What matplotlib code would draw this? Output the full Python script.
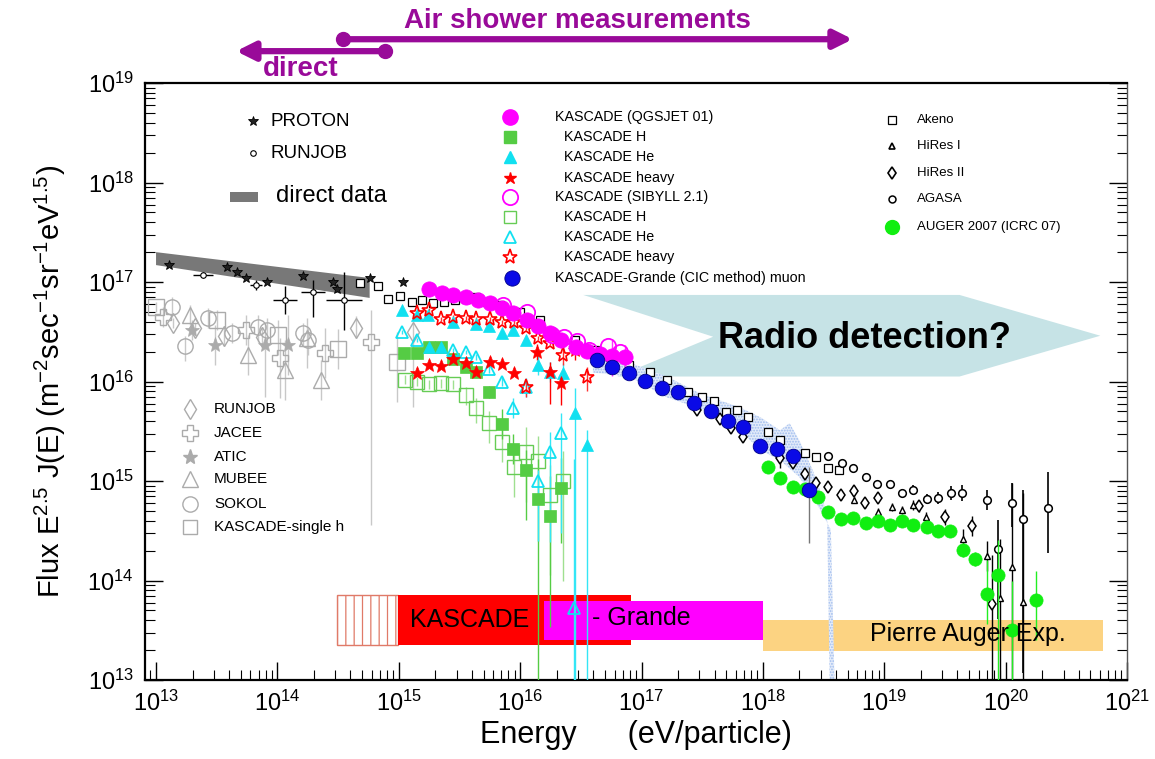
import numpy as np
import matplotlib
matplotlib.use("Agg")
import matplotlib.pyplot as plt
from matplotlib.patches import Polygon
from matplotlib.ticker import FixedLocator, NullFormatter

plt.rcParams['font.family'] = ['Liberation Sans', 'DejaVu Sans']
plt.rcParams['mathtext.fontset'] = 'custom'
plt.rcParams['mathtext.rm'] = 'Liberation Sans'
plt.rcParams['mathtext.it'] = 'Liberation Sans:italic'
plt.rcParams['mathtext.bf'] = 'Liberation Sans:bold'
plt.rcParams['hatch.linewidth'] = 0.9

# ---------------- data (log10 energy [eV], log10 flux*E^2.5) ----------------
band_logE = [13.0, 14.76]
band_up = [17.30, 17.04]
band_lo = [17.17, 16.84]

proton_logE = [13.107, 13.585, 13.667, 13.741, 13.914, 14.211, 14.458, 14.491, 14.763, 15.035]
proton_logF = [17.171, 17.151, 17.101, 17.045, 17.005, 17.065, 17.005, 16.925, 17.045, 17.005]

runjob_logE = [13.387, 13.824, 14.063, 14.293, 14.549]
runjob_logF = [17.070, 16.970, 16.819, 16.899, 16.819]
runjob_xerr = [0.08, 0.05, 0.10, 0.10, 0.15]
runjob_ylo = [0.03, 0.05, 0.14, 0.25, 0.30]
runjob_yhi = [0.03, 0.05, 0.14, 0.12, 0.28]

sokol_logE = [13.132, 13.239, 13.428, 13.626, 13.840, 13.914, 14.211, 14.252]
sokol_logF = [16.749, 16.357, 16.638, 16.487, 16.548, 16.518, 16.487, 16.417]
sokol_lo = [0.10, 0.15, 0.10, 0.10, 0.15, 0.15, 0.12, 0.15]
sokol_hi = [0.10, 0.10, 0.10, 0.10, 0.12, 0.12, 0.10, 0.12]

rjgrey_logE = [13.140, 13.321, 13.560, 13.873, 14.647, 15.117]
rjgrey_logF = [16.588, 16.538, 16.457, 16.447, 16.538, 16.497]
rjgrey_lo = [0.05, 0.05, 0.10, 0.10, 0.10, 0.75]
rjgrey_hi = [0.05, 0.05, 0.10, 0.10, 0.12, 0.10]

jacee_logE = [13.058, 13.741, 14.021, 14.392, 14.771]
jacee_logF = [16.648, 16.518, 16.236, 16.286, 16.397]
jacee_lo = [0.10, 0.15, 0.40, 0.25, 1.84]
jacee_hi = [0.10, 0.15, 0.20, 0.25, 0.32]

atic_logE = [13.297, 13.486, 13.898, 14.087]
atic_logF = [16.518, 16.367, 16.367, 16.367]
atic_lo = [0.10, 0.20, 0.52, 0.30]
atic_hi = [0.10, 0.20, 0.22, 0.30]

mubee_logE = [13.280, 13.758, 14.063, 14.244, 14.359]
mubee_logF = [16.668, 16.266, 16.116, 16.437, 16.015]
mubee_lo = [0.10, 0.20, 0.30, 0.30, 0.20]
mubee_hi = [0.10, 0.20, 0.30, 0.20, 0.20]

ksingle_logE = [13.0, 13.502, 14.005, 14.499, 14.985]
ksingle_logF = [16.749, 16.618, 16.467, 16.327, 16.196]
ksingle_lo = [0.05, 0.10, 0.20, 0.20, 0.40]
ksingle_hi = [0.05, 0.10, 0.15, 0.20, 0.30]

akeno_logE = [14.68, 14.83, 14.91, 15.01, 15.11, 15.19, 15.28, 15.37, 15.46, 15.55, 15.64, 15.73,
              15.83, 16.00, 16.16, 16.26, 16.45, 16.62, 16.74, 16.90, 17.07, 17.21, 17.38, 17.50,
              17.60, 17.70, 17.79, 17.88, 18.04, 18.14, 18.35, 18.44, 18.54, 18.63]
akeno_logF = [16.99, 16.96, 16.83, 16.86, 16.80, 16.82, 16.79, 16.80, 16.82, 16.83, 16.85, 16.80,
              16.77, 16.70, 16.62, 16.50, 16.42, 16.32, 16.25, 16.17, 16.10, 16.02, 15.89, 15.84,
              15.80, 15.69, 15.71, 15.64, 15.49, 15.41, 15.28, 15.24, 15.13, 15.11]

agasa_logE = [18.54, 18.65, 18.74, 18.85, 18.94, 19.05, 19.15, 19.24, 19.35, 19.44, 19.55, 19.64,
              19.85, 19.94, 20.05, 20.14, 20.35]
agasa_logF = [15.25, 15.18, 15.13, 15.04, 14.97, 14.97, 14.88, 14.91, 14.82, 14.83, 14.88, 14.88,
              14.81, 14.32, 14.78, 14.62, 14.73]
agasa_lo = [0.03, 0.03, 0.03, 0.03, 0.03, 0.04, 0.04, 0.05, 0.05, 0.06, 0.07, 0.08,
            0.10, 0.71, 0.24, 1.55, 0.45]
agasa_hi = [0.03, 0.03, 0.03, 0.03, 0.03, 0.04, 0.04, 0.05, 0.05, 0.06, 0.07, 0.08,
            0.10, 0.29, 0.20, 0.29, 0.36]

hires1_logE = [18.75, 18.95, 19.06, 19.15, 19.24, 19.34, 19.65, 19.85, 19.95, 20.05, 20.14]
hires1_logF = [14.81, 14.69, 14.74, 14.71, 14.76, 14.64, 14.42, 14.25, 13.82, 14.14, 13.78]
hires1_lo = [0.03, 0.04, 0.04, 0.04, 0.05, 0.05, 0.10, 0.15, 0.90, 1.20, 0.80]
hires1_hi = [0.03, 0.04, 0.04, 0.04, 0.05, 0.05, 0.10, 0.15, 0.60, 0.84, 1.10]

hires2_logE = [17.46, 17.65, 17.74, 17.84, 18.14, 18.25, 18.35, 18.44, 18.54, 18.64, 18.75, 18.84,
               18.95, 19.29, 19.50, 19.72, 19.89]
hires2_logF = [15.71, 15.62, 15.53, 15.44, 15.23, 15.18, 15.07, 14.98, 14.94, 14.86, 14.90, 14.78,
               14.83, 14.75, 14.64, 14.55, 13.76]
hires2_lo = [0.05, 0.05, 0.05, 0.05, 0.10, 0.05, 0.05, 0.05, 0.05, 0.05, 0.05, 0.05,
             0.05, 0.06, 0.08, 0.10, 0.80]
hires2_hi = [0.05, 0.05, 0.05, 0.05, 0.10, 0.05, 0.05, 0.05, 0.05, 0.05, 0.05, 0.05,
             0.05, 0.06, 0.08, 0.10, 0.50]

auger_logE = [18.04, 18.14, 18.25, 18.35, 18.45, 18.54, 18.64, 18.74, 18.85, 18.95, 19.05, 19.15,
              19.24, 19.35, 19.44, 19.54, 19.65, 19.75, 19.85, 19.94, 20.05, 20.25]
auger_logF = [15.14, 15.03, 14.94, 14.92, 14.84, 14.69, 14.62, 14.63, 14.58, 14.60, 14.56, 14.60,
              14.56, 14.54, 14.50, 14.50, 14.31, 14.22, 13.86, 14.06, 13.50, 13.80]
auger_lo = [0.02] * 16 + [0.07, 0.07, 0.30, 1.10, 0.60, 0.40]
auger_hi = [0.02] * 16 + [0.07, 0.07, 0.35, 0.35, 0.50, 0.30]

grande_logE = [16.63, 16.76, 16.90, 17.03, 17.17, 17.30, 17.43, 17.57, 17.71, 17.84, 17.98, 18.12,
               18.25, 18.38]
grande_logF = [16.22, 16.15, 16.09, 16.01, 15.93, 15.89, 15.78, 15.70, 15.60, 15.54, 15.35, 15.32,
               15.25, 14.91]
grande_lo = [0.02] * 13 + [0.53]
grande_hi = [0.02] * 13 + [0.23]

# systematic band of KASCADE-Grande
gband_up_logE = [16.60, 16.90, 17.21, 17.48, 17.81, 17.98, 18.14, 18.22, 18.30, 18.41, 18.49, 18.53, 18.55]
gband_up_logF = [16.32, 16.19, 16.05, 15.88, 15.74, 15.64, 15.51, 15.58, 15.41, 15.11, 14.84, 14.61, 13.0]
gband_lo_logE = [16.60, 16.90, 17.21, 17.48, 17.81, 17.98, 18.14, 18.30, 18.44, 18.56, 18.59]
gband_lo_logF = [16.09, 16.05, 15.84, 15.73, 15.51, 15.31, 15.21, 15.04, 14.78, 14.51, 13.0]

qgs_all_logE = [15.25, 15.36, 15.45, 15.55, 15.65, 15.75, 15.85, 15.94, 16.06, 16.15, 16.25, 16.34,
                16.46, 16.55, 16.66, 16.76, 16.86]
qgs_all_logF = [16.93, 16.89, 16.87, 16.85, 16.82, 16.79, 16.74, 16.69, 16.62, 16.56, 16.49, 16.42,
                16.35, 16.31, 16.28, 16.26, 16.25]
qgs_all_lo = [0.02] * 15 + [0.20, 0.15]
qgs_all_hi = [0.02] * 15 + [0.16, 0.12]

sib_all_logE = [15.86, 16.06, 16.26, 16.36, 16.47, 16.57, 16.72, 16.82]
sib_all_logF = [16.77, 16.70, 16.47, 16.45, 16.41, 16.32, 16.36, 16.30]

qgs_h_logE = [15.04, 15.15, 15.25, 15.35, 15.45, 15.55, 15.64, 15.74, 15.85, 15.94, 16.05, 16.15, 16.25, 16.34]
qgs_h_logF = [16.29, 16.29, 16.35, 16.35, 16.23, 16.15, 16.10, 15.89, 15.57, 15.32, 15.11, 14.82, 14.65, 14.93]
qgs_h_lo = [0.02, 0.02, 0.02, 0.02, 0.03, 0.04, 0.05, 0.06, 0.15, 0.15, 0.50, 1.90, 1.12, 0.55]
qgs_h_hi = [0.02, 0.02, 0.02, 0.02, 0.03, 0.04, 0.05, 0.06, 0.15, 0.15, 0.20, 0.40, 0.40, 0.30]

sib_h_logE = [15.05, 15.15, 15.25, 15.35, 15.45, 15.55, 15.64, 15.74, 15.85, 15.95, 16.05, 16.15, 16.25, 16.35]
sib_h_logF = [16.02, 16.00, 15.97, 15.98, 15.97, 15.86, 15.73, 15.58, 15.39, 15.14, 15.29, 15.20, 14.86, 15.00]
sib_h_lo = [0.05, 0.05, 0.05, 0.05, 0.05, 0.10, 0.15, 0.20, 0.20, 0.30, 0.50, 0.80, 0.80, 1.00]
sib_h_hi = [0.05, 0.05, 0.05, 0.05, 0.05, 0.08, 0.10, 0.12, 0.15, 0.20, 0.25, 0.25, 0.30, 0.30]

qgs_he_logE = [15.03, 15.15, 15.24, 15.25, 15.35, 15.45, 15.64, 15.74, 15.85, 15.94, 16.05, 16.15, 16.25, 16.35, 16.45, 16.55]
qgs_he_logF = [16.72, 16.67, 16.67, 16.35, 16.35, 16.60, 16.58, 16.56, 16.49, 16.52, 16.42, 16.17, 16.10, 16.09, 15.68, 15.36]
qgs_he_lo = [0.02] * 11 + [0.10, 0.10, 0.10, 3.0, 3.0]
qgs_he_hi = [0.02] * 11 + [0.10, 0.10, 0.10, 0.25, 0.15]

sib_he_logE = [15.03, 15.15, 15.45, 15.55, 15.64, 15.74, 15.85, 15.94, 16.05, 16.15, 16.25, 16.34, 16.44]
sib_he_logF = [16.50, 16.42, 16.32, 16.30, 16.25, 16.13, 16.00, 15.73, 15.94, 15.00, 15.29, 15.48, 13.72]
sib_he_lo = [0.02, 0.02, 0.02, 0.02, 0.03, 0.04, 0.05, 0.10, 0.10, 0.60, 0.90, 1.00, 3.0]
sib_he_hi = [0.02, 0.02, 0.02, 0.02, 0.03, 0.04, 0.05, 0.10, 0.10, 0.11, 0.20, 0.20, 1.50]

qgs_hv_logE = [15.15, 15.25, 15.35, 15.45, 15.55, 15.64, 15.75, 15.85, 15.95, 16.14, 16.25, 16.34, 16.45]
qgs_hv_logF = [16.09, 16.17, 16.16, 16.23, 16.19, 16.10, 16.20, 16.18, 16.09, 16.30, 16.10, 15.98, 16.32]
qgs_hv_lo = [0.03] * 9 + [0.08, 0.33, 0.22, 0.10]
qgs_hv_hi = [0.03] * 9 + [0.08, 0.10, 0.10, 0.10]

sib_hv_logE = [15.15, 15.25, 15.35, 15.45, 15.55, 15.64, 15.75, 15.85, 15.95, 16.05, 16.15, 16.25, 16.35, 16.55, 16.05]
sib_hv_logF = [16.69, 16.72, 16.63, 16.65, 16.64, 16.63, 16.63, 16.60, 16.60, 16.54, 16.44, 16.39, 16.27, 16.05, 15.94]
sib_hv_lo = [0.02] * 12 + [0.10, 0.15, 0.10]
sib_hv_hi = [0.02] * 12 + [0.10, 0.10, 0.08]

# experiment energy ranges (log10 E) and flux heights of the bars
kascade_hatch_range = [14.49, 14.99]
kascade_range = [14.99, 16.91]
kascade_flux = [13.35, 13.85]
grande_range = [16.20, 18.00]
grande_flux = [13.40, 13.79]
auger_range = [18.00, 20.80]
auger_flux = [13.29, 13.60]

# radio-detection arrow outline (log10 E, log10 flux)
radio_logE = [16.52, 19.62, 20.78, 19.62, 16.80, 17.59]
radio_logF = [16.87, 16.87, 16.46, 16.05, 16.05, 16.45]

# ranges of the measurement techniques (log10 E)
airshower_range = [14.54, 18.74]
direct_range = [13.66, 14.89]

# axis decades
x_decades = list(range(13, 22))
y_decades = list(range(13, 20))

# ---------------- figure ----------------
W, H = 1155, 759
fig = plt.figure(figsize=(W / 100, H / 100), dpi=100)
ax = fig.add_axes([145 / W, 1 - 680 / H, (1127 - 145) / W, (680 - 83) / H])
ax.set_xscale('log')
ax.set_yscale('log')
ax.set_xlim(10 ** 12.909, 10 ** 21.0)
ax.set_ylim(1e13, 1e19)


def P(a):
    return 10.0 ** np.asarray(a, float)


def series(logE, logF, lo=None, hi=None, xerr=None, ecolor='k', elw=1.0, z=5, **kw):
    x, y = P(logE), P(logF)
    yerr = None
    xe = None
    if lo is not None:
        lo = np.asarray(lo, float)
        hi = np.asarray(hi, float)
        yerr = [y * (1 - 10 ** -lo), y * (10 ** hi - 1)]
    if xerr is not None:
        xr = np.asarray(xerr, float)
        xe = [x * (1 - 10 ** -xr), x * (10 ** xr - 1)]
    if yerr is not None or xe is not None:
        ax.errorbar(x, y, yerr=yerr, xerr=xe, fmt='none', ecolor=ecolor,
                    elinewidth=elw, capsize=0, zorder=z - 0.5)
    ax.plot(x, y, ls='none', zorder=z, **kw)


# radio arrow
ax.add_patch(Polygon(np.column_stack([P(radio_logE), P(radio_logF)]),
                     closed=True, facecolor='#c6e3e6', edgecolor='none', zorder=1))
ax.text(10 ** 18.84, 10 ** 16.43, 'Radio detection?', fontsize=26, fontweight='bold',
        ha='center', va='center', zorder=12)

# experiment bars
ax.fill(P([kascade_hatch_range[0], kascade_hatch_range[1], kascade_hatch_range[1], kascade_hatch_range[0]]),
        P([kascade_flux[0], kascade_flux[0], kascade_flux[1], kascade_flux[1]]),
        facecolor='white', edgecolor='#e07a68', hatch='||', lw=1.0, zorder=1.5)
ax.fill(P([kascade_range[0], kascade_range[1], kascade_range[1], kascade_range[0]]),
        P([kascade_flux[0], kascade_flux[0], kascade_flux[1], kascade_flux[1]]),
        facecolor='#ff0000', edgecolor='none', zorder=1.5)
ax.fill(P([grande_range[0], grande_range[1], grande_range[1], grande_range[0]]),
        P([grande_flux[0], grande_flux[0], grande_flux[1], grande_flux[1]]),
        facecolor='#ff00ff', edgecolor='none', zorder=1.6)
ax.fill(P([auger_range[0], auger_range[1], auger_range[1], auger_range[0]]),
        P([auger_flux[0], auger_flux[0], auger_flux[1], auger_flux[1]]),
        facecolor='#fcd382', edgecolor='none', zorder=1.5)
ax.text(10 ** 15.09, 10 ** 13.60, 'KASCADE', fontsize=18, ha='left', va='center', zorder=12)
ax.text(10 ** 16.59, 10 ** 13.62, '- Grande', fontsize=18, ha='left', va='center', zorder=12)
ax.text(10 ** 18.88, 10 ** 13.46, 'Pierre Auger Exp.', fontsize=18, ha='left', va='center', zorder=12)

# KASCADE-Grande systematic band
bx = np.concatenate([P(gband_up_logE), P(gband_lo_logE)[::-1]])
by = np.concatenate([P(gband_up_logF), P(gband_lo_logF)[::-1]])
ax.add_patch(Polygon(np.column_stack([bx, by]), closed=True, facecolor='#e4ecfa',
                     edgecolor='#9fbcee', hatch='......', lw=0, zorder=2))

# direct data band
dx = np.concatenate([P(band_logE), P(band_logE)[::-1]])
dy = np.concatenate([P(band_up), P(band_lo)[::-1]])
ax.add_patch(Polygon(np.column_stack([dx, dy]), closed=True, facecolor='#787878',
                     edgecolor='none', zorder=3))

grey = '#ababab'
series(ksingle_logE, ksingle_logF, ksingle_lo, ksingle_hi, ecolor='#c8c8c8', z=3.2,
       marker='s', ms=11, mfc='none', mec=grey, mew=1.0)
series(sokol_logE, sokol_logF, sokol_lo, sokol_hi, ecolor='#c8c8c8', z=3.2,
       marker='o', ms=11, mfc='none', mec=grey, mew=1.0)
series(rjgrey_logE, rjgrey_logF, rjgrey_lo, rjgrey_hi, ecolor='#c8c8c8', z=3.2,
       marker='d', ms=10, mfc='none', mec=grey, mew=1.0)
series(jacee_logE, jacee_logF, jacee_lo, jacee_hi, ecolor='#c8c8c8', z=3.2,
       marker='P', ms=11, mfc='none', mec=grey, mew=1.0)
series(atic_logE, atic_logF, atic_lo, atic_hi, ecolor='#c8c8c8', z=3.2,
       marker='*', ms=11, mfc=grey, mec=grey, mew=0.5)
series(mubee_logE, mubee_logF, mubee_lo, mubee_hi, ecolor='#c8c8c8', z=3.2,
       marker='^', ms=11, mfc='none', mec=grey, mew=1.0)

series(proton_logE, proton_logF, z=4, marker='*', ms=7, mfc='#222222', mec='k', mew=0.6)
series(runjob_logE, runjob_logF, runjob_ylo, runjob_yhi, xerr=runjob_xerr, ecolor='k', elw=1.0,
       z=4, marker='o', ms=4, mfc='white', mec='k', mew=0.8)

# air shower data
series(akeno_logE, akeno_logF, z=4, marker='s', ms=5.5, mfc='white', mec='k', mew=0.9)
series(hires2_logE, hires2_logF, hires2_lo, hires2_hi, ecolor='k', z=4,
       marker='d', ms=6, mfc='white', mec='k', mew=1.1)
series(hires1_logE, hires1_logF, hires1_lo, hires1_hi, ecolor='k', z=4,
       marker='^', ms=5, mfc='white', mec='k', mew=1.0)
series(agasa_logE, agasa_logF, agasa_lo, agasa_hi, ecolor='k', elw=1.2, z=4,
       marker='o', ms=5.5, mfc='white', mec='k', mew=1.1)
series(auger_logE, auger_logF, auger_lo, auger_hi, ecolor='#22ee22', z=6,
       marker='o', ms=9.5, mfc='#11ee11', mec='#11ee11', mew=0.5)

# KASCADE unfolding results
green = '#55cc44'
series(sib_h_logE, sib_h_logF, sib_h_lo, sib_h_hi, ecolor='#9fe090', z=5,
       marker='s', ms=10, mfc='none', mec='#66cc55', mew=1.0)
series(qgs_h_logE, qgs_h_logF, qgs_h_lo, qgs_h_hi, ecolor='#55cc44', z=5.2,
       marker='s', ms=8, mfc=green, mec=green, mew=0.5)
series(sib_he_logE, sib_he_logF, sib_he_lo, sib_he_hi, ecolor='#33e6f5', z=5.3,
       marker='^', ms=9, mfc='none', mec='#11e0f0', mew=1.3)
series(qgs_he_logE, qgs_he_logF, qgs_he_lo, qgs_he_hi, ecolor='#33e6f5', z=5.4,
       marker='^', ms=8, mfc='#11e0f0', mec='#11e0f0', mew=0.5)
series(sib_hv_logE, sib_hv_logF, sib_hv_lo, sib_hv_hi, ecolor='#ff3333', z=5.5,
       marker='*', ms=11, mfc='none', mec='#ff0000', mew=1.2)
series(qgs_hv_logE, qgs_hv_logF, qgs_hv_lo, qgs_hv_hi, ecolor='#ff0000', z=5.6,
       marker='*', ms=10, mfc='#ff0000', mec='#ff0000', mew=0.5)
series(qgs_all_logE, qgs_all_logF, qgs_all_lo, qgs_all_hi, ecolor='#ff33ff', z=5.7,
       marker='o', ms=11, mfc='#ff00ff', mec='#ff00ff', mew=0.5)
series(sib_all_logE, sib_all_logF, z=5.8, marker='o', ms=11, mfc='none', mec='#ff00ff', mew=1.3)
series(grande_logE, grande_logF, grande_lo, grande_hi, ecolor='#777777', z=7,
       marker='o', ms=10.5, mfc='#0a0ae6', mec='#000088', mew=0.6)

# ---------------- axes styling ----------------
ax.xaxis.set_major_locator(FixedLocator([10.0 ** d for d in x_decades]))
ax.yaxis.set_major_locator(FixedLocator([10.0 ** d for d in y_decades]))
ax.xaxis.set_minor_locator(FixedLocator([m * 10.0 ** d for d in x_decades[:-1] + [12] for m in range(2, 10)
                                         if 10 ** 12.909 < m * 10.0 ** d < 1e21]))
ax.yaxis.set_minor_locator(FixedLocator([m * 10.0 ** d for d in y_decades[:-1] for m in range(2, 10)]))
ax.set_xticklabels([r'$10^{%d}$' % d for d in x_decades])
ax.set_yticklabels([r'$10^{%d}$' % d for d in y_decades])
ax.xaxis.set_minor_formatter(NullFormatter())
ax.yaxis.set_minor_formatter(NullFormatter())
ax.tick_params(which='both', direction='in', top=False, right=True, labelsize=17, pad=8)
ax.tick_params(which='major', length=13, width=1.0)
ax.tick_params(which='minor', length=7, width=0.8)
for s in ['left', 'bottom', 'top']:
    ax.spines[s].set_linewidth(1.6)
ax.spines['right'].set_linewidth(1.0)
ax.spines['right'].set_color('#555555')

ax.set_xlabel('Energy      (eV/particle)', fontsize=22, labelpad=3)
ax.set_ylabel(r'Flux E$^{2.5}$ J(E) (m$^{-2}$sec$^{-1}$sr$^{-1}$eV$^{1.5}$)', fontsize=21, labelpad=14)

# ---------------- top annotations ----------------
purple = '#990a99'
yA, yD = 10 ** 19.44, 10 ** 19.32
ax.annotate('', xy=(10 ** airshower_range[1], yA), xytext=(10 ** airshower_range[0], yA),
            annotation_clip=False,
            arrowprops=dict(arrowstyle='-|>,head_length=1.1,head_width=0.55', color=purple, lw=4.5,
                            shrinkA=0, shrinkB=0))
ax.plot([10 ** airshower_range[0]], [yA], 'o', ms=10, color=purple, clip_on=False, zorder=10)
ax.annotate('', xy=(10 ** direct_range[0], yD), xytext=(10 ** direct_range[1], yD),
            annotation_clip=False,
            arrowprops=dict(arrowstyle='-|>,head_length=1.1,head_width=0.55', color=purple, lw=4.5,
                            shrinkA=0, shrinkB=0))
ax.plot([10 ** direct_range[1]], [yD], 'o', ms=10, color=purple, clip_on=False, zorder=10)
ax.text(10 ** 16.47, 10 ** 19.62, 'Air shower measurements', color=purple, fontsize=20,
        fontweight='bold', ha='center', va='center', clip_on=False)
ax.text(10 ** 14.19, 10 ** 19.14, 'direct', color=purple, fontsize=20,
        fontweight='bold', ha='center', va='center', clip_on=False)


# ---------------- legends (manual, figure pixel positions) ----------------
def fx(px):
    return px / W


def fy(py):
    return 1 - py / H


def key(px, py, label, tx, fs, **mk):
    fig.add_artist(plt.Line2D([fx(px)], [fy(py)], ls='none', **mk))
    fig.text(fx(tx), fy(py), label, fontsize=fs, ha='left', va='center')


key(253, 121, 'PROTON', 270, 13.5, marker='*', ms=7, mfc='#222222', mec='k', mew=0.6)
key(253, 153, 'RUNJOB', 270, 13.5, marker='o', ms=4, mfc='white', mec='k', mew=0.8)
fig.add_artist(plt.Rectangle((fx(230), fy(202)), fx(258) - fx(230), fy(192) - fy(202),
                             facecolor='#787878', edgecolor='none'))
fig.text(fx(276), fy(196), 'direct data', fontsize=17, ha='left', va='center')

gk = dict(mfc='none', mec=grey, mew=1.0)
lfs = 11
key(190, 409, 'RUNJOB', 214, lfs, marker='d', ms=10, **gk)
key(190, 433, 'JACEE', 214, lfs, marker='P', ms=11, **gk)
key(190, 457, 'ATIC', 214, lfs, marker='*', ms=11, mfc=grey, mec=grey)
key(190, 479, 'MUBEE', 214, lfs, marker='^', ms=11, **gk)
key(190, 504, 'SOKOL', 214, lfs, marker='o', ms=11, **gk)
key(190, 527, 'KASCADE-single h', 214, lfs, marker='s', ms=10, **gk)

cfs = 10.3
key(510, 117, 'KASCADE (QGSJET 01)', 555, cfs, marker='o', ms=11, mfc='#ff00ff', mec='#ff00ff')
key(510, 137, 'KASCADE H', 564, cfs, marker='s', ms=8, mfc=green, mec=green)
key(510, 157, 'KASCADE He', 564, cfs, marker='^', ms=8, mfc='#11e0f0', mec='#11e0f0')
key(510, 178, 'KASCADE heavy', 564, cfs, marker='*', ms=9, mfc='#ff0000', mec='#ff0000')
key(510, 197, 'KASCADE (SIBYLL 2.1)', 555, cfs, marker='o', ms=11, mfc='none', mec='#ff00ff', mew=1.3)
key(510, 217, 'KASCADE H', 564, cfs, marker='s', ms=8, mfc='none', mec='#66cc55', mew=1.0)
key(510, 237, 'KASCADE He', 564, cfs, marker='^', ms=9, mfc='none', mec='#11e0f0', mew=1.3)
key(510, 257, 'KASCADE heavy', 564, cfs, marker='*', ms=11, mfc='none', mec='#ff0000', mew=1.2)
key(512, 278, 'KASCADE-Grande (CIC method) muon', 555, cfs, marker='o', ms=11,
    mfc='#0a0ae6', mec='#000088', mew=0.6)

key(892, 120, 'Akeno', 917, 9.5, marker='s', ms=6, mfc='white', mec='k', mew=0.9)
key(892, 146, 'HiRes I', 917, 9.5, marker='^', ms=5, mfc='white', mec='k', mew=1.2)
key(892, 173, 'HiRes II', 917, 9.5, marker='d', ms=6, mfc='white', mec='k', mew=1.2)
key(892, 199, 'AGASA', 917, 9.5, marker='o', ms=5, mfc='white', mec='k', mew=1.1)
key(892, 227, 'AUGER 2007 (ICRC 07)', 917, 9.5, marker='o', ms=10, mfc='#11ee11', mec='#11ee11')

fig.savefig('out.png', dpi=100)
